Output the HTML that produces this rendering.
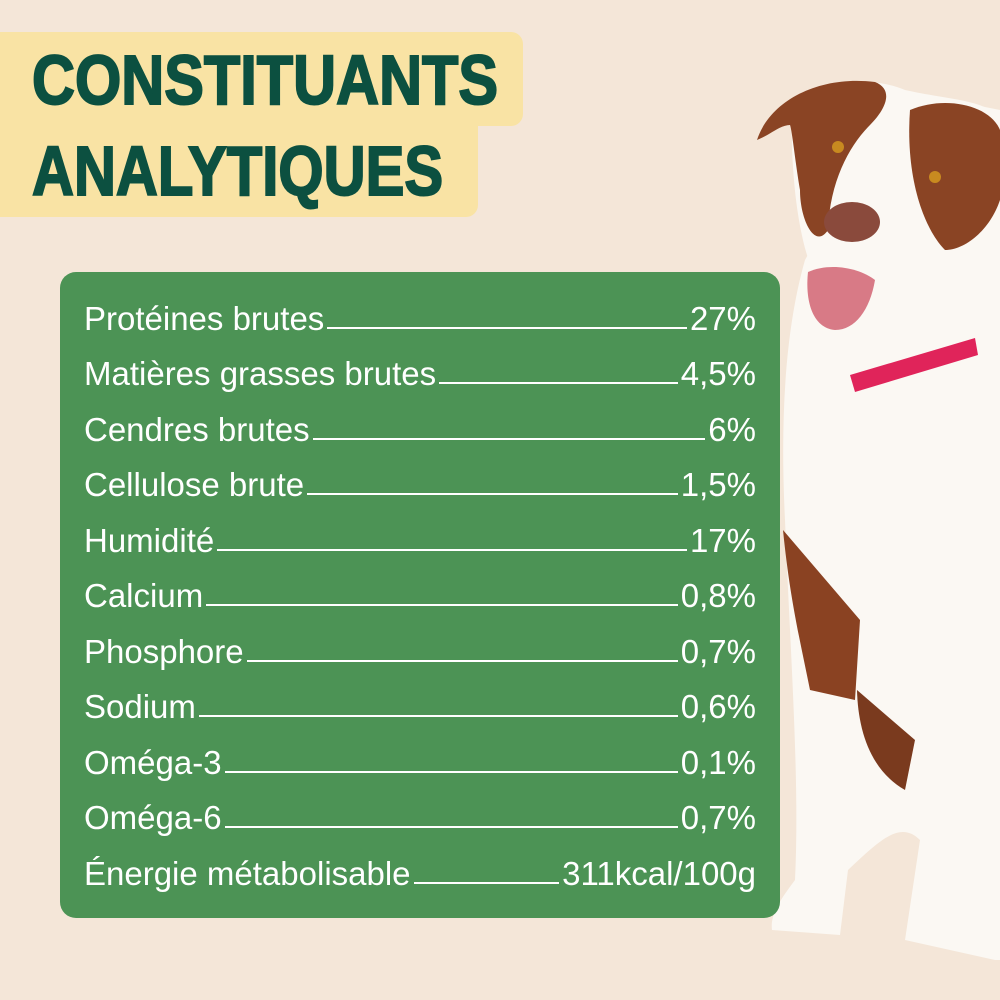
<!DOCTYPE html>
<html><head><meta charset="utf-8"><style>
html,body{margin:0;padding:0}
body{width:1000px;height:1000px;background:#f4e6d8;position:relative;overflow:hidden;font-family:"Liberation Sans Narrow","Liberation Sans",sans-serif}
.tb{position:absolute;background:#f9e3a4;}
.t{position:absolute;left:32px;font-family:"Liberation Sans",sans-serif;font-weight:bold;color:#0c5040;font-size:70px;line-height:70px;transform-origin:0 0;white-space:nowrap;-webkit-text-stroke:2px #0c5040}
.panel{position:absolute;left:60px;top:272px;width:720px;height:646px;background:#4c9355;border-radius:16px}
.row{position:absolute;left:84px;width:672px;height:40px;display:flex;align-items:flex-end;color:#fff;font-size:33px;line-height:33px;white-space:nowrap}
.row .l{flex:1;border-bottom:2px solid #fff;margin:0 3px 6px 3px}
svg{position:absolute;left:0;top:0}
</style></head><body>
<svg width="1000" height="1000">
<!-- body -->
<path d="M805 260 C785 330 780 420 785 520 C790 650 800 780 795 880 C780 900 770 915 772 930 L840 935 L848 870 C880 840 900 820 920 840 L905 940 L995 960 L1000 960 L1000 110 L900 90 Z" fill="#fbf8f3"/>
<path d="M783 530 C790 600 800 640 810 690 L855 700 L860 620 Z" fill="#8a4222"/>
<path d="M857 690 C858 730 870 770 905 790 L915 740 Z" fill="#7a3a1e"/>
<!-- head -->
<path d="M792 110 C810 80 870 75 905 90 C950 100 990 100 1000 120 L1000 290 C960 320 880 330 830 300 C800 270 790 180 792 110 Z" fill="#fbf8f3"/>
<path d="M757 140 C770 100 820 75 875 82 C895 90 885 110 870 125 C850 145 830 180 828 230 C815 250 800 220 800 190 C795 160 792 130 790 125 C780 125 770 135 757 140 Z" fill="#8a4424"/>
<path d="M910 110 C945 95 990 105 1000 130 L1000 200 C990 230 965 250 945 250 C925 230 905 180 910 110 Z" fill="#8a4424"/>
<circle cx="838" cy="147" r="6" fill="#c88a20"/><circle cx="935" cy="177" r="6" fill="#c88a20"/>
<ellipse cx="852" cy="222" rx="28" ry="20" fill="#8a4a3c"/>
<path d="M808 272 C830 262 860 268 875 280 C870 310 855 330 835 330 C812 328 805 300 808 272 Z" fill="#d87a86"/>
<path d="M850 375 L975 338 L978 355 L855 392 Z" fill="#e0245a"/>
</svg>
<div class="tb" style="left:0;top:32px;width:523px;height:94px;border-radius:0 12px 12px 0"></div>
<div class="tb" style="left:0;top:124px;width:478px;height:93px;border-radius:0 0 12px 0"></div>
<div class="t" style="top:45px;transform:scaleX(0.85)">CONSTITUANTS</div>
<div class="t" style="top:136px;transform:scaleX(0.83)">ANALYTIQUES</div>
<div class="panel"></div>
<div class="row" style="top:295px"><span>Protéines brutes</span><span class="l"></span><span>27%</span></div>
<div class="row" style="top:350px"><span>Matières grasses brutes</span><span class="l"></span><span>4,5%</span></div>
<div class="row" style="top:406px"><span>Cendres brutes</span><span class="l"></span><span>6%</span></div>
<div class="row" style="top:461px"><span>Cellulose brute</span><span class="l"></span><span>1,5%</span></div>
<div class="row" style="top:517px"><span>Humidité</span><span class="l"></span><span>17%</span></div>
<div class="row" style="top:572px"><span>Calcium</span><span class="l"></span><span>0,8%</span></div>
<div class="row" style="top:628px"><span>Phosphore</span><span class="l"></span><span>0,7%</span></div>
<div class="row" style="top:683px"><span>Sodium</span><span class="l"></span><span>0,6%</span></div>
<div class="row" style="top:739px"><span>Oméga-3</span><span class="l"></span><span>0,1%</span></div>
<div class="row" style="top:794px"><span>Oméga-6</span><span class="l"></span><span>0,7%</span></div>
<div class="row" style="top:850px"><span>Énergie métabolisable</span><span class="l"></span><span>311kcal/100g</span></div>
</body></html>
